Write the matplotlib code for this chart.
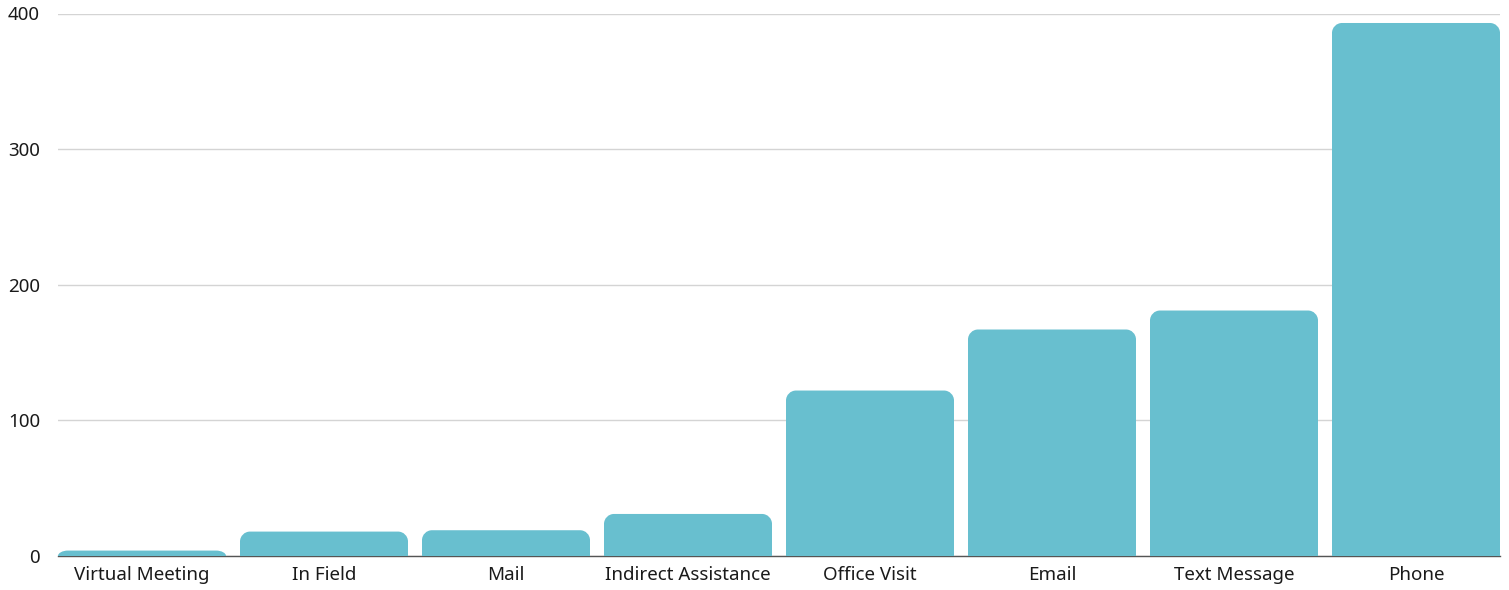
import matplotlib
matplotlib.use("Agg")
import matplotlib.pyplot as plt
from matplotlib.path import Path
from matplotlib.patches import PathPatch

plt.rcParams['font.family'] = ['Noto Sans', 'DejaVu Sans']

categories = ['Virtual Meeting', 'In Field', 'Mail', 'Indirect Assistance',
              'Office Visit', 'Email', 'Text Message', 'Phone']
counts = [4, 18, 19, 31, 122, 167, 181, 393]
y_ticks = [0, 100, 200, 300, 400]

bar_color = '#68bfcf'
W, H, DPI = 1509, 590, 100

fig = plt.figure(figsize=(W / DPI, H / DPI), dpi=DPI)
left, right, bottom, top = 58, 1500, 556, 13.5
ax = fig.add_axes([left / W, (H - bottom) / H, (right - left) / W, (bottom - top) / H])

band_px = 182
bar_px = 168
width = bar_px / band_px
ax.set_xlim(-width / 2, len(categories) - 1 + width / 2)
ax.set_ylim(0, 400)

# corner radius in data units for both directions
radius_px = 10
px_per_x = (right - left) / (len(categories) - 1 + width)
px_per_y = (bottom - top) / 400
rx = radius_px / px_per_x
k = 0.5523


def rounded_top_bar(x0, w, h):
    ry = min(radius_px / px_per_y, h)
    x1 = x0 + w
    verts = [
        (x0, 0), (x0, h - ry),
        (x0, h - ry + k * ry), (x0 + rx - k * rx, h), (x0 + rx, h),
        (x1 - rx, h),
        (x1 - rx + k * rx, h), (x1, h - ry + k * ry), (x1, h - ry),
        (x1, 0), (x0, 0),
    ]
    codes = [Path.MOVETO, Path.LINETO,
             Path.CURVE4, Path.CURVE4, Path.CURVE4,
             Path.LINETO,
             Path.CURVE4, Path.CURVE4, Path.CURVE4,
             Path.LINETO, Path.CLOSEPOLY]
    return Path(verts, codes)


for i, v in enumerate(counts):
    patch = PathPatch(rounded_top_bar(i - width / 2, width, v),
                      facecolor=bar_color, edgecolor='none', zorder=3)
    ax.add_patch(patch)

ax.set_yticks(y_ticks)
ax.set_xticks(range(len(categories)))
ax.set_xticklabels(categories)
ax.tick_params(axis='both', length=0, labelsize=13.5, colors='#1a1a1a')
ax.tick_params(axis='y', pad=13)
ax.tick_params(axis='x', pad=7)

ax.yaxis.grid(True, color='#d4d4d4', linewidth=1)
ax.set_axisbelow(True)
for s in ['top', 'right', 'left']:
    ax.spines[s].set_visible(False)
ax.spines['bottom'].set_color('#555555')
ax.spines['bottom'].set_linewidth(1)
ax.spines['bottom'].set_zorder(2)

fig.savefig('out.png', dpi=DPI)
